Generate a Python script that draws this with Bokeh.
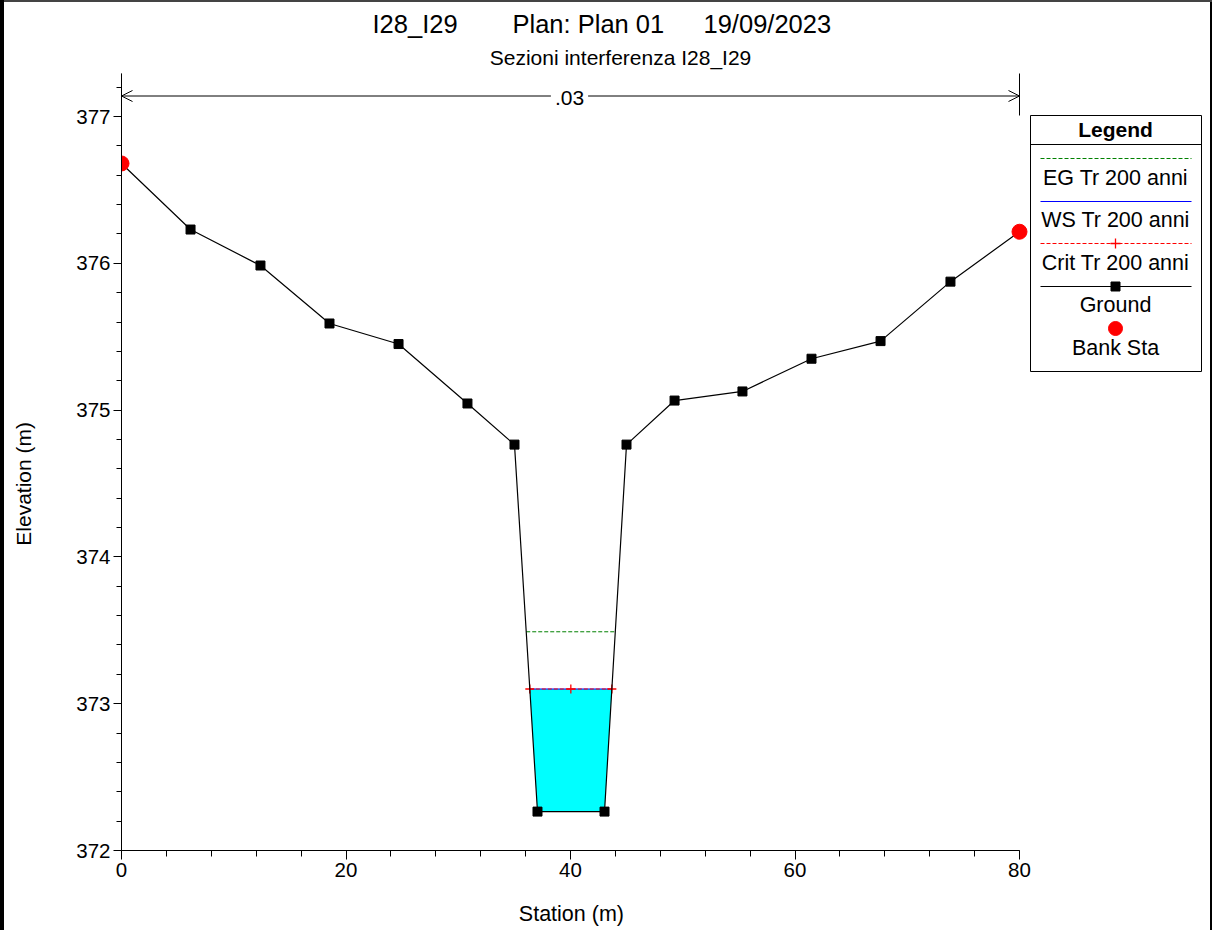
import numpy as np
from bokeh.plotting import figure
from bokeh.models import Range1d, FixedTicker, Arrow, OpenHead, Label
from bokeh.core.properties import value
from bokeh.embed import file_html
from bokeh.resources import INLINE

# ---------------- data ----------------
station = [0.0, 6.15, 12.38, 18.53, 24.68, 30.82, 35.01, 37.06, 43.03, 44.99,
           49.27, 55.32, 61.47, 67.62, 73.85, 80.0]
elevation = [376.68, 376.23, 375.985, 375.59, 375.45, 375.045, 374.765, 372.265,
             372.265, 374.765, 375.065, 375.127, 375.35, 375.47, 375.875, 376.215]
bank_sta = [0.0, 80.0]
eg_elev = 373.49
ws_elev = 373.10
crit_elev = 373.10
manning_n = ".03"
x_ticks = [0, 20, 40, 60, 80]
y_ticks = [372, 373, 374, 375, 376, 377]
title_parts = ["I28_I29", "Plan: Plan 01", "19/09/2023"]
subtitle = "Sezioni interferenza I28_I29"
x_label = "Station (m)"
y_label = "Elevation (m)"
legend_labels = ["EG Tr 200 anni", "WS Tr 200 anni", "Crit Tr 200 anni", "Ground", "Bank Sta"]

FONT = value("Liberation Sans")
NBSP = "\u00a0"

# ---------------- layout helpers ----------------
W, H = 1212, 930
PX_X = 11.225                # px per metre (station)
PX_Y = 146.8                 # px per metre (elevation)
LEFT = 121                   # frame left in figure px
BOTTOM_PX = 850              # frame bottom in figure px
x_end = (W - LEFT) / PX_X
y_end = 372 + BOTTOM_PX / PX_Y


def X(px):
    return (px - 121) / PX_X


def Y(py):
    return 372 + (850 - py) / PX_Y


st = np.array(station)
el = np.array(elevation)


def crossing(level):
    i_min = int(np.argmin(el))
    i = i_min
    while i > 0 and el[i - 1] < level:
        i -= 1
    i -= 1
    xl = st[i] + (el[i] - level) / (el[i] - el[i + 1]) * (st[i + 1] - st[i])
    j = i_min
    while j < len(el) - 1 and el[j + 1] < level:
        j += 1
    xr = st[j] + (level - el[j]) / (el[j + 1] - el[j]) * (st[j + 1] - st[j])
    return xl, xr, i + 1, j


p = figure(width=W, height=H, x_range=Range1d(0, x_end), y_range=Range1d(372, y_end),
           output_backend="svg", toolbar_location=None, title=None,
           min_border_left=LEFT, min_border_right=0, min_border_top=0,
           min_border_bottom=H - BOTTOM_PX)
p.outline_line_color = None
p.xgrid.visible = False
p.ygrid.visible = False
p.background_fill_color = None
p.border_fill_color = None
p.styles = {"box-shadow": "inset 4px 0 0 0 #000, inset 0 2px 0 0 #444, inset -2px 0 0 0 #000",
            "background-color": "white"}

# axes
for ax in (p.xaxis[0], p.yaxis[0]):
    ax.axis_line_color = "black"
    ax.major_tick_line_color = "black"
    ax.minor_tick_line_color = "black"
    ax.major_tick_in = 0
    ax.minor_tick_in = 0
    ax.major_label_text_font = "Liberation Sans"
    ax.major_label_text_font_size = "20.5px"
    ax.major_label_text_color = "black"
    ax.axis_label_text_font = "Liberation Sans"
    ax.axis_label_text_font_style = "normal"
    ax.axis_label_text_color = "black"

p.xaxis.ticker = FixedTicker(ticks=x_ticks, minor_ticks=list(np.arange(0, 81, 4)))
p.yaxis.ticker = FixedTicker(ticks=y_ticks, minor_ticks=list(np.round(np.arange(372, 377.3, 0.2), 1)))
p.xaxis.bounds = (0, 80)
p.yaxis.bounds = (372, Y(73))
p.xaxis.major_tick_out = 9
p.xaxis.minor_tick_out = 6
p.yaxis.major_tick_out = 8
p.yaxis.minor_tick_out = 5
p.xaxis.major_label_standoff = 3
p.yaxis.major_label_standoff = 3

# axis titles: the label is centred on the whole frame, so pad it with
# non-breaking spaces to centre the visible words on the bounded axis span
p.xaxis.axis_label = x_label + NBSP * 32
p.xaxis.axis_label_text_font_size = "21.5px"
p.xaxis.axis_label_standoff = 22
p.yaxis.axis_label = y_label + NBSP * 20
p.yaxis.axis_label_text_font_size = "21px"
p.yaxis.axis_label_standoff = 38

# water
xl, xr, il, ir = crossing(ws_elev)
wx = [xl] + list(st[il:ir + 1]) + [xr]
wy = [ws_elev] + list(el[il:ir + 1]) + [ws_elev]
p.patch(wx, wy, fill_color="#00FFFF", line_color=None)

# EG
exl, exr, _, _ = crossing(eg_elev)
p.line([exl, exr], [eg_elev, eg_elev], line_color="#008000", line_dash="4 2", line_width=1)
# WS
p.line([xl, xr], [ws_elev, ws_elev], line_color="blue", line_width=1.2)
# Crit
cxl, cxr, _, _ = crossing(crit_elev)
p.line([cxl, cxr], [crit_elev, crit_elev], line_color="red", line_dash="4 2", line_width=1)
p.scatter([cxl, (cxl + cxr) / 2, cxr], [crit_elev] * 3, marker="cross", size=9,
          line_color="red", line_width=1.3)
# Ground
p.line(station, elevation, line_color="black", line_width=1.2)
p.scatter(station[1:-1], elevation[1:-1], marker="square", size=9, fill_color="black",
          line_color="black")
# Bank stations
bank_el = [float(np.interp(b, st, el)) for b in bank_sta]
p.scatter(bank_sta, bank_el, marker="circle", size=15, fill_color="red", line_color="red")

# Manning n bracket
p.segment(x0=[0, 80], y0=[Y(73), Y(73)], x1=[0, 80], y1=[Y(115), Y(115)],
          line_color="black", line_width=1)
p.add_layout(Arrow(start=OpenHead(size=11, line_width=1, line_color="black"),
                   end=OpenHead(size=11, line_width=1, line_color="black"),
                   x_start=0, y_start=Y(95.5), x_end=80, y_end=Y(95.5),
                   line_color="black", line_width=1))
p.add_layout(Label(x=X(569), y=Y(97), text=manning_n, text_font="Liberation Sans",
                   text_font_size="21px", text_align="center", text_baseline="middle",
                   background_fill_color="white", padding=4, text_color="black"))

# Titles
p.text(x=[X(372), X(512), X(703)], y=[Y(23)] * 3, text=title_parts, text_font=FONT,
       text_font_size="25.5px", text_align="left", text_baseline="middle", text_color="black")
p.text(x=[X(620)], y=[Y(57)], text=[subtitle], text_font=FONT, text_font_size="21px",
       text_align="center", text_baseline="middle", text_color="black")

# Legend box
p.quad(left=[X(1030)], right=[X(1201)], top=[Y(115)], bottom=[Y(371)],
       fill_color="white", line_color="black", line_width=1)
p.segment(x0=[X(1030)], y0=[Y(144)], x1=[X(1201)], y1=[Y(144)], line_color="black")
p.text(x=[X(1115)], y=[Y(129)], text=["Legend"], text_font=FONT, text_font_size="21px",
       text_font_style="bold", text_align="center", text_baseline="middle", text_color="black")
lx0, lx1, lxc = X(1040), X(1191), X(1115)
p.line([lx0, lx1], [Y(158)] * 2, line_color="#008000", line_dash="4 2", line_width=1)
p.line([lx0, lx1], [Y(201)] * 2, line_color="blue", line_width=1.2)
p.line([lx0, lx1], [Y(243)] * 2, line_color="red", line_dash="4 2", line_width=1)
p.scatter([lxc], [Y(243)], marker="cross", size=10, line_color="red", line_width=1.3)
p.line([lx0, lx1], [Y(286)] * 2, line_color="black", line_width=1.2)
p.scatter([lxc], [Y(286)], marker="square", size=9, fill_color="black", line_color="black")
p.scatter([lxc], [Y(328)], marker="circle", size=14, fill_color="red", line_color="red")
p.text(x=[lxc] * 5, y=[Y(177), Y(219), Y(262), Y(304), Y(347)], text=legend_labels,
       text_font=FONT, text_font_size="21.5px", text_align="center", text_baseline="middle",
       text_color="black")

open("out.html", "w").write(file_html(p, INLINE))
